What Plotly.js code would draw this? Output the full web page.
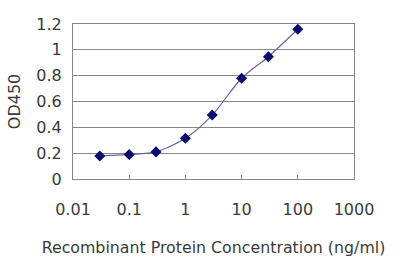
<!DOCTYPE html>
<html>
<head>
<meta charset="utf-8">
<script src="https://cdn.plot.ly/plotly-3.0.1.min.js"></script>
<style>html,body{margin:0;padding:0;background:#fff;}#chart{width:400px;height:267px;}</style>
</head>
<body>
<div id="chart"></div>
<script>
const concentrations = [0.03, 0.1, 0.3, 1, 3, 10, 30, 100];
const od450 = [0.178, 0.19, 0.21, 0.315, 0.495, 0.78, 0.947, 1.159];
const xTickVals = [0.01, 0.1, 1, 10, 100, 1000];
const xTickText = ["0.01", "0.1", "1", "10", "100", "1000"];
const yTickVals = [0, 0.2, 0.4, 0.6, 0.8, 1, 1.2];
const yTickText = ["0", "0.2", "0.4", "0.6", "0.8", "1", "1.2"];

const trace = {
  x: concentrations,
  y: od450,
  type: 'scatter',
  mode: 'lines+markers',
  line: {shape: 'spline', smoothing: 0.8, color: '#6464a8', width: 1.2},
  marker: {symbol: 'diamond', size: 8.5, color: '#0c0c70'},
  hoverinfo: 'none'
};

const FONT = 'DejaVu Sans, Liberation Sans, Arial, sans-serif';
const layout = {
  width: 400, height: 267,
  margin: {l: 73, r: 46, t: 24, b: 88},
  paper_bgcolor: '#fff', plot_bgcolor: '#fff',
  font: {family: FONT, color: '#3a3a3a', size: 15},
  showlegend: false,
  xaxis: {
    type: 'log', range: [-2, 3],
    tickvals: xTickVals, ticktext: xTickText,
    showgrid: false, zeroline: false,
    showline: true, linecolor: '#888', linewidth: 1, mirror: true,
    ticks: 'inside', ticklen: 4, tickcolor: '#888',
    ticklabelstandoff: 16,
    tickfont: {family: FONT, size: 16, color: '#3a3a3a'},
    title: {text: 'Recombinant Protein Concentration (ng/ml)', font: {family: FONT, size: 15.8, color: '#3a3a3a'}, standoff: 23}
  },
  yaxis: {
    range: [0, 1.2],
    tickvals: yTickVals, ticktext: yTickText,
    showgrid: true, gridcolor: '#888', gridwidth: 1,
    zeroline: false,
    showline: true, linecolor: '#888', linewidth: 1, mirror: true,
    ticks: '', ticklabelstandoff: 7,
    tickfont: {family: FONT, size: 16, color: '#3a3a3a'},
    title: {text: 'OD450', font: {family: FONT, size: 16, color: '#3a3a3a'}, standoff: 11}
  }
};

Plotly.newPlot('chart', [trace], layout, {displayModeBar: false, staticPlot: true});
</script>
</body>
</html>
